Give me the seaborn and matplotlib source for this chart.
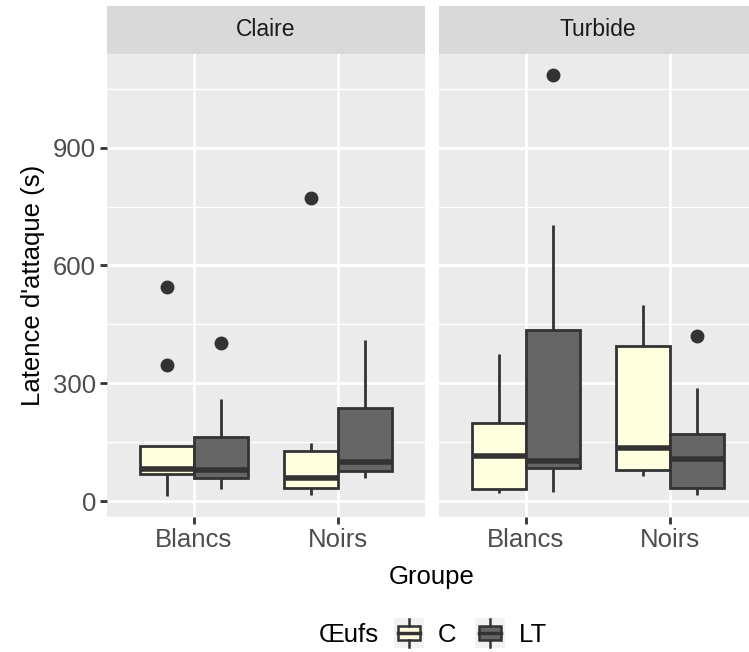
import pandas as pd
import numpy as np
import matplotlib.pyplot as plt
import seaborn as sns
from matplotlib.patches import Rectangle, Patch
from matplotlib.lines import Line2D
from matplotlib.legend_handler import HandlerBase

plt.rcParams['font.family'] = ['Liberation Sans', 'DejaVu Sans']

eau = ["Claire", "Turbide"]
groupe = ["Blancs", "Noirs"]
oeufs = ["C", "LT"]

claire_blancs_c = [13, 40, 68, 75, 81, 100, 140, 346, 546]
claire_blancs_lt = [30, 45, 58, 70, 79, 120, 163, 261, 402]
claire_noirs_c = [15, 25, 32, 45, 58, 100, 128, 148, 773]
claire_noirs_lt = [58, 70, 77, 90, 100, 180, 238, 300, 409]
turbide_blancs_c = [20, 25, 31, 80, 114, 150, 199, 280, 374]
turbide_blancs_lt = [24, 60, 83, 95, 102, 300, 436, 704, 1085]
turbide_noirs_c = [64, 70, 79, 110, 135, 250, 394, 450, 500]
turbide_noirs_lt = [15, 25, 33, 80, 106, 140, 172, 288, 420]

series = {
    ("Claire", "Blancs", "C"): claire_blancs_c,
    ("Claire", "Blancs", "LT"): claire_blancs_lt,
    ("Claire", "Noirs", "C"): claire_noirs_c,
    ("Claire", "Noirs", "LT"): claire_noirs_lt,
    ("Turbide", "Blancs", "C"): turbide_blancs_c,
    ("Turbide", "Blancs", "LT"): turbide_blancs_lt,
    ("Turbide", "Noirs", "C"): turbide_noirs_c,
    ("Turbide", "Noirs", "LT"): turbide_noirs_lt,
}
rows = []
for (e, g, o), vals in series.items():
    for v in vals:
        rows.append({"Eau": e, "Groupe": g, "Oeufs": o, "Latence": v})
df = pd.DataFrame(rows)

pal = {"C": "#FFFFE0", "LT": "#666666"}
edge = "#333333"

W, H = 749, 652
fig = plt.figure(figsize=(W / 100, H / 100), dpi=100)
panel_x = [107, 439]
pw = 318
top, bottom, strip_top = 54, 517, 6

# data range + 5% like ggplot
ymin, ymax = df.Latence.min(), df.Latence.max()
pad = (ymax - ymin) * 0.05

for i, e in enumerate(eau):
    ax = fig.add_axes([panel_x[i] / W, 1 - bottom / H, pw / W, (bottom - top) / H])
    ax.set_facecolor("#EBEBEB")
    ax.set_axisbelow(True)
    sns.boxplot(data=df[df.Eau == e], x="Groupe", y="Latence", hue="Oeufs",
                order=groupe, hue_order=oeufs, palette=pal, saturation=1,
                width=0.75, gap=0, linecolor=edge, linewidth=2, showcaps=False,
                fliersize=9,
                flierprops=dict(marker="o", markerfacecolor=edge, markeredgecolor=edge),
                medianprops=dict(linewidth=4, color=edge),
                legend=False, ax=ax)
    ax.set_xlim(-0.6, 1.6)
    ax.set_ylim(ymin - pad, ymax + pad)
    ax.set_yticks([0, 300, 600, 900])
    ax.set_yticks([150, 450, 750, 1050], minor=True)
    ax.grid(which="major", color="white", lw=2)
    ax.grid(which="minor", axis="y", color="white", lw=1)
    ax.tick_params(which="minor", length=0)
    ax.tick_params(which="major", length=5, width=2, color=edge,
                   labelsize=18.5, labelcolor="#4D4D4D", pad=3)
    for s in ax.spines.values():
        s.set_visible(False)
    ax.set_xlabel("")
    ax.set_ylabel("")
    if i == 1:
        ax.tick_params(axis="y", left=False, labelleft=False)

    # facet strip
    sax = fig.add_axes([panel_x[i] / W, 1 - top / H, pw / W, (top - strip_top) / H])
    sax.set_facecolor("#D9D9D9")
    sax.set_xticks([])
    sax.set_yticks([])
    for s in sax.spines.values():
        s.set_visible(False)
    sax.text(0.5, 0.5, e, ha="center", va="center", fontsize=16.5,
             color="#1A1A1A", transform=sax.transAxes)

fig.text(432 / W, 1 - 577 / H, "Groupe", ha="center", va="center", fontsize=18.5)
fig.text(33 / W, 1 - 285 / H, "Latence d'attaque (s)", ha="center", va="center",
         rotation=90, fontsize=18.5)


class BoxKey(HandlerBase):
    # square key centred on the handle area, like ggplot's boxplot key
    def create_artists(self, legend, orig, xd, yd, w, h, fontsize, trans):
        fill = orig.get_facecolor()
        s = w
        x0 = xd
        y0 = yd + h / 2 - s / 2
        bg = Rectangle((x0, y0), s, s, facecolor="#F2F2F2", edgecolor="none", transform=trans)
        box = Rectangle((x0 + 0.12 * s, y0 + 0.27 * s), 0.76 * s, 0.46 * s,
                        facecolor=fill, edgecolor=edge, lw=1.8, transform=trans)
        med = Line2D([x0 + 0.12 * s, x0 + 0.88 * s], [y0 + 0.5 * s] * 2,
                     color=edge, lw=2.5, transform=trans)
        w1 = Line2D([x0 + 0.5 * s] * 2, [y0 + 0.03 * s, y0 + 0.27 * s], color=edge, lw=1.8, transform=trans)
        w2 = Line2D([x0 + 0.5 * s] * 2, [y0 + 0.73 * s, y0 + 0.97 * s], color=edge, lw=1.8, transform=trans)
        return [bg, box, med, w1, w2]


handles = [Patch(facecolor=pal[o], label=o) for o in oeufs]
fig.text(319 / W, 1 - 635 / H, "Œufs", ha="left", va="center", fontsize=18.5)
fig.legend(handles=handles, loc="center left", bbox_to_anchor=(394 / W, 1 - 635 / H),
           ncol=2, frameon=False, fontsize=18.5, borderpad=0, borderaxespad=0,
           handlelength=1.15, handletextpad=0.55, columnspacing=0.75,
           handler_map={Patch: BoxKey()})

fig.savefig("out.png", dpi=100)
